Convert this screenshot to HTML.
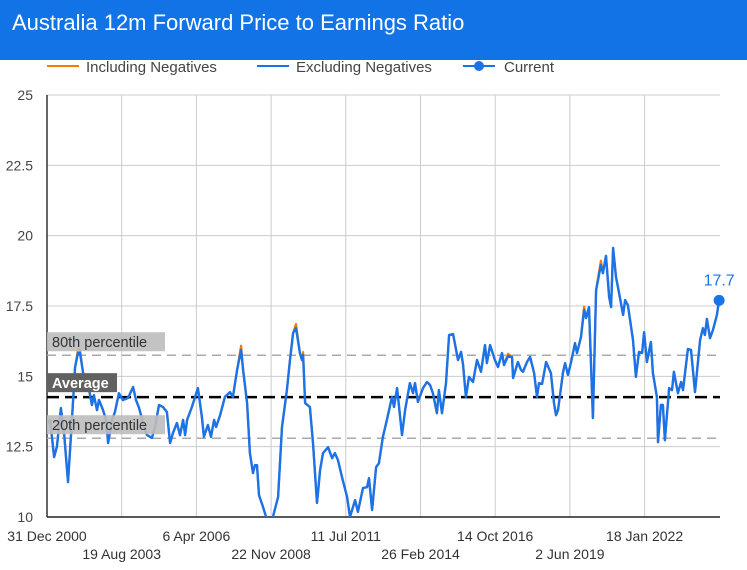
<!DOCTYPE html>
<html><head><meta charset="utf-8"><style>
body{margin:0;width:747px;height:570px;overflow:hidden;background:#fff;font-family:"Liberation Sans",sans-serif;}
#title{position:absolute;left:0;top:0;width:747px;height:60px;background:#1173e6;color:#fff;font-size:22px;line-height:46px;padding-left:12px;box-sizing:border-box;z-index:2}
svg{position:absolute;left:0;top:0}
</style></head><body>
<div id="title">Australia 12m Forward Price to Earnings Ratio</div>
<svg id="chart" width="747" height="570"></svg>
<script>
const years=[2001.04,2001.11,2001.25,2001.35,2001.49,2001.6,2001.74,2001.84,2001.99,2002.09,2002.16,2002.27,2002.44,2002.58,2002.65,2002.76,2002.83,2002.97,2003.08,2003.15,2003.29,2003.39,2003.53,2003.67,2003.85,2004.03,2004.13,2004.24,2004.38,2004.52,2004.69,2004.8,2004.94,2005.08,2005.22,2005.33,2005.43,2005.57,2005.68,2005.79,2005.86,2005.93,2006.1,2006.21,2006.31,2006.45,2006.52,2006.66,2006.77,2006.88,2006.95,2007.09,2007.26,2007.44,2007.54,2007.69,2007.83,2007.9,2008.04,2008.14,2008.25,2008.32,2008.39,2008.46,2008.6,2008.71,2008.85,2008.95,2009.13,2009.27,2009.44,2009.55,2009.66,2009.76,2009.9,2009.97,2010.01,2010.08,2010.25,2010.36,2010.5,2010.61,2010.71,2010.89,2011.03,2011.13,2011.24,2011.38,2011.56,2011.66,2011.84,2011.94,2012.12,2012.26,2012.33,2012.44,2012.58,2012.68,2012.82,2012.96,2013.14,2013.21,2013.32,2013.49,2013.6,2013.77,2013.88,2013.95,2014.05,2014.23,2014.37,2014.48,2014.58,2014.72,2014.79,2014.9,2015.04,2015.15,2015.29,2015.46,2015.57,2015.64,2015.74,2015.85,2015.99,2016.13,2016.27,2016.41,2016.48,2016.59,2016.76,2016.87,2017.01,2017.08,2017.22,2017.36,2017.4,2017.57,2017.68,2017.75,2017.89,2018.0,2018.14,2018.24,2018.31,2018.42,2018.56,2018.73,2018.84,2018.91,2018.98,2019.16,2019.23,2019.33,2019.44,2019.58,2019.65,2019.79,2019.9,2019.97,2020.07,2020.21,2020.32,2020.49,2020.56,2020.67,2020.78,2020.85,2020.92,2021.02,2021.13,2021.27,2021.34,2021.44,2021.62,2021.72,2021.83,2021.94,2022.01,2022.11,2022.25,2022.32,2022.46,2022.5,2022.6,2022.67,2022.74,2022.89,2022.99,2023.06,2023.2,2023.31,2023.38,2023.55,2023.66,2023.8,2023.98,2024.08,2024.15,2024.22,2024.33,2024.43,2024.57,2024.65];
const excl=[13.34,13.45,12.13,12.5,13.87,12.98,11.24,12.85,15.33,15.83,15.83,15.12,14.76,13.98,14.33,13.8,14.16,13.8,13.45,12.63,13.45,13.73,14.4,14.16,14.23,14.62,14.16,13.87,13.34,12.91,12.81,13.2,13.98,13.91,13.73,12.63,12.98,13.34,12.91,13.45,12.91,13.45,13.91,14.27,14.58,13.55,12.85,13.27,12.85,13.45,13.2,13.62,14.27,14.44,14.27,15.23,15.94,15.23,14.05,12.27,11.56,11.84,11.84,10.78,10.36,10,9.6,10,10.71,13.2,14.51,15.58,16.54,16.71,15.83,15.58,15.76,14.05,13.91,12.63,10.5,11.67,12.27,12.48,12.09,12.27,12.02,11.42,10.71,10,10.6,10.18,11.03,11.06,11.38,10.25,11.77,11.91,12.85,13.45,14.27,13.91,14.58,12.91,13.8,14.76,14.4,14.76,14.09,14.58,14.8,14.69,14.4,13.69,14.51,13.69,14.76,16.47,16.5,15.58,15.87,15.4,14.27,14.98,14.8,15.58,15.16,16.11,15.47,16.11,15.58,15.33,15.83,15.4,15.72,15.69,14.94,15.51,15.23,15.16,15.51,15.69,15.12,14.27,14.76,14.73,15.51,15.12,14.05,13.62,13.8,15.16,15.47,15.05,15.51,16.18,15.83,16.4,17.36,17.07,17.46,13.52,18.07,18.96,18.67,19.28,17.82,17.46,19.56,18.53,17.96,17.18,17.71,17.53,16.29,14.98,15.87,15.83,16.57,15.51,16.22,15.12,14.27,12.66,13.98,13.98,12.73,14.58,14.51,15.16,14.4,14.8,14.51,15.97,15.94,14.44,16.29,16.71,16.47,17.04,16.36,16.64,17.18,17.71];
const inclExtraIdx=[9,10,56,73,76,134,158,163,166];
const inclExtraVal=[0.12,0.12,0.15,0.15,0.1,0.08,0.12,0.15,0.1];
const yTicks=[10,12.5,15,17.5,20,22.5,25];
const xTickLabels=["31 Dec 2000","19 Aug 2003","6 Apr 2006","22 Nov 2008","11 Jul 2011","26 Feb 2014","14 Oct 2016","2 Jun 2019","18 Jan 2022"];
const refValues=[15.75,14.26,12.8];
const refLabels=["80th percentile","Average","20th percentile"];
const currentValue=17.7;

const NS="http://www.w3.org/2000/svg";
const svg=document.getElementById('chart');
const L=47,R=720,T=95,B=517;
const x=t=>L+(t-2001)*28.42;
const y=v=>B-(v-10)/15*(B-T);
function el(tag,attrs,parent){const e=document.createElementNS(NS,tag);for(const k in attrs)e.setAttribute(k,attrs[k]);(parent||svg).appendChild(e);return e;}
const defs=el('defs',{});const cp=el('clipPath',{id:'plotclip'},defs);el('rect',{x:L,y:0,width:R-L+10,height:B},cp);

yTicks.forEach(v=>{
  const g=el('line',{x1:L,x2:R,y1:y(v),y2:y(v),stroke:'#ccc','stroke-width':1});
  
  
  const t=el('text',{x:33,y:y(v)+5,'text-anchor':'end','font-size':14,fill:'#444'});t.textContent=v;
  
  
});
xTickLabels.forEach((s,i)=>{
  const px=L+i*74.7;
  if(i>0){const g=el('line',{x1:px,x2:px,y1:T,y2:B,stroke:'#ccc','stroke-width':1});
  
  }
  const t=el('text',{x:px,y:i%2?559:541,'text-anchor':'middle','font-size':14,fill:'#333'});t.textContent=s;
  
  
});
el('line',{x1:L,x2:L,y1:T,y2:B,stroke:'#333','stroke-width':1.5});
const xa=el('line',{x1:L,x2:R,y1:B,y2:B,stroke:'#222','stroke-width':1.5});



refValues.forEach((v,i)=>{
  const avg=i===1;
  const ln=el('line',{x1:L,x2:R,y1:y(v),y2:y(v),stroke:avg?'#000':'#aaa','stroke-width':avg?2.5:1.5,'stroke-dasharray':avg?'12,6':'9,6'});
  
  
});
function pathOf(vals){return vals.map((v,i)=>(i?'L':'M')+x(years[i]).toFixed(1)+','+y(v).toFixed(1)).join('');}
const incl=excl.slice();inclExtraIdx.forEach((k,j)=>incl[k]+=inclExtraVal[j]);
const po=el('path',{d:pathOf(incl),fill:'none',stroke:'#f57c00','stroke-width':2.2,'clip-path':'url(#plotclip)','stroke-linejoin':'round'});


const pb=el('path',{d:pathOf(excl),fill:'none',stroke:'#1a73e8','stroke-width':2.4,'clip-path':'url(#plotclip)','stroke-linejoin':'round'});



refValues.forEach((v,i)=>{
  const avg=i===1;const w=avg?70:118;
  const g=el('g',{});
  
  
  const ty=avg?y(v)-24:y(v)-23;
  el('rect',{x:L,y:ty,width:w,height:19,fill:avg?'#616161':'#bdbdbd','fill-opacity':avg?1:0.9},g);
  const t=el('text',{x:L+5,y:ty+15,'font-size':14.5,fill:avg?'#fff':'#333','font-weight':avg?'bold':'normal'},g);t.textContent=refLabels[i];
});

const lastT=years[years.length-1];
const c=el('circle',{cx:x(lastT),cy:y(currentValue),r:5.5,fill:'#1a73e8'});


const ct=el('text',{x:x(lastT),y:y(currentValue)-15,'text-anchor':'middle','font-size':16,fill:'#1a73e8'});ct.textContent=currentValue;



const leg=[[47,'#f57c00','Including Negatives',false],[257,'#1a73e8','Excluding Negatives',false],[463,'#1a73e8','Current',true]];
leg.forEach(a=>{
  const g=el('g',{});
  
  
  el('line',{x1:a[0],x2:a[0]+32,y1:66,y2:66,stroke:a[1],'stroke-width':2},g);
  if(a[3])el('circle',{cx:a[0]+16,cy:66,r:5,fill:a[1]},g);
  const t=el('text',{x:a[0]+(a[3]?41:39),y:72,'font-size':15,fill:'#444'},g);t.textContent=a[2];
});
</script>
</body></html>
